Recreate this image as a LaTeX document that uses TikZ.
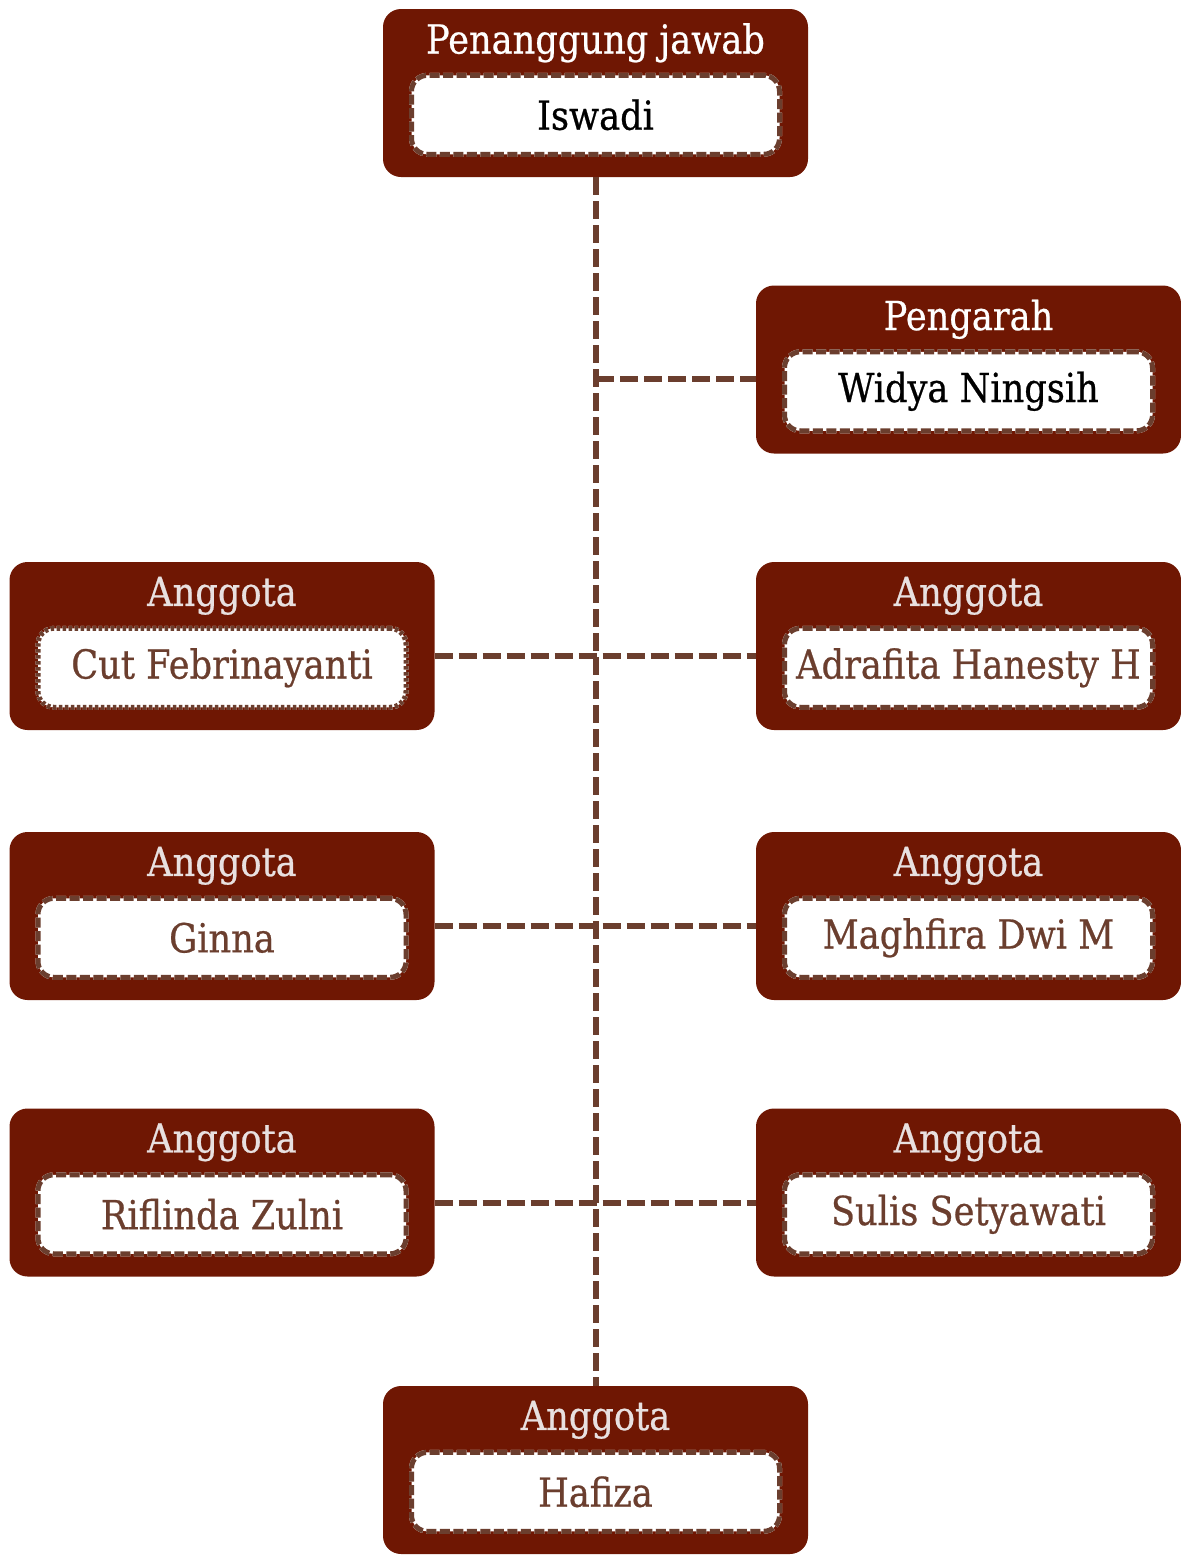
\documentclass[tikz,border=0pt]{standalone}
\usepackage{fontspec}
\setmainfont{DejaVu Serif}[FakeStretch=0.88, FakeBold=0.6]
\definecolor{boxred}{HTML}{6F1703}
\definecolor{linebrown}{HTML}{6B3E2E}
\definecolor{titlegray}{HTML}{E8E0E0}
\tikzset{
  outerbox/.style={rectangle, rounded corners=18pt, fill=boxred, minimum width=425pt, minimum height=168pt, inner sep=0pt},
  innerbox/.style={rectangle, rounded corners=16pt, fill=white, minimum width=368pt, minimum height=79pt, inner sep=0pt,
    preaction={draw=white, line width=5pt}, draw=linebrown, line width=5pt, dash pattern=on 10pt off 3.5pt,
    font=\fontsize{40}{46}\selectfont, text=linebrown},
  dotbox/.style={innerbox, dash pattern=on 3.5pt off 2.5pt},
  titletext/.style={font=\fontsize{40}{46}\selectfont, text=titlegray, inner sep=0pt},
  conn/.style={draw=linebrown, line width=6pt, dash pattern=on 18pt off 6pt}
}
\begin{document}
\begin{tikzpicture}[x=1pt,y=-1pt]
\useasboundingbox (0,0) rectangle (1181,1556);
% outer boxes
\node[outerbox] (pj) at (595.5,93) {};
\node[outerbox] (peng) at (968.5,369.5) {};
\node[outerbox] (l1) at (222,646) {};
\node[outerbox] (r1) at (968.5,646) {};
\node[outerbox] (l2) at (222,916) {};
\node[outerbox] (r2) at (968.5,916) {};
\node[outerbox] (l3) at (222,1192.5) {};
\node[outerbox] (r3) at (968.5,1192.5) {};
\node[outerbox] (bot) at (595.5,1470) {};
% titles
\node[titletext, text=white] (pjt) at ([yshift=-34pt]pj.north) {Penanggung jawab};
\node[titletext, text=white] (pengt) at ([yshift=-34pt]peng.north) {Pengarah};
\node[titletext] (l1t) at ([yshift=-34pt]l1.north) {Anggota};
\node[titletext] (r1t) at ([yshift=-34pt]r1.north) {Anggota};
\node[titletext] (l2t) at ([yshift=-34pt]l2.north) {Anggota};
\node[titletext] (r2t) at ([yshift=-34pt]r2.north) {Anggota};
\node[titletext] (l3t) at ([yshift=-34pt]l3.north) {Anggota};
\node[titletext] (r3t) at ([yshift=-34pt]r3.north) {Anggota};
\node[titletext] (bott) at ([yshift=-34pt]bot.north) {Anggota};
% inner name boxes
\node[innerbox, text=black] (pjn) at ([yshift=-106pt]pj.north) {Iswadi};
\node[innerbox, text=black] (pengn) at ([yshift=-106pt]peng.north) {Widya Ningsih};
\node[dotbox] (l1n) at ([yshift=-106pt]l1.north) {Cut Febrinayanti};
\node[innerbox] (r1n) at ([yshift=-106pt]r1.north) {Adrafita Hanesty H};
\node[innerbox] (l2n) at ([yshift=-106pt]l2.north) {Ginna};
\node[innerbox] (r2n) at ([yshift=-106pt]r2.north) {Maghfira Dwi M};
\node[innerbox] (l3n) at ([yshift=-106pt]l3.north) {Riflinda Zulni};
\node[innerbox] (r3n) at ([yshift=-106pt]r3.north) {Sulis Setyawati};
\node[innerbox] (botn) at ([yshift=-106pt]bot.north) {Hafiza};
% connectors
\coordinate (t0) at (596,379);
\coordinate (t1) at (596,656);
\coordinate (t2) at (596,926);
\coordinate (t3) at (596,1203);
\draw[conn] (pj.south -| t0) -- (bot.north -| t0);
\draw[conn] (t0) -- (peng.west |- t0);
\draw[conn] (l1.east |- t1) -- (r1.west |- t1);
\draw[conn] (l2.east |- t2) -- (r2.west |- t2);
\draw[conn] (l3.east |- t3) -- (r3.west |- t3);
\end{tikzpicture}
\end{document}
